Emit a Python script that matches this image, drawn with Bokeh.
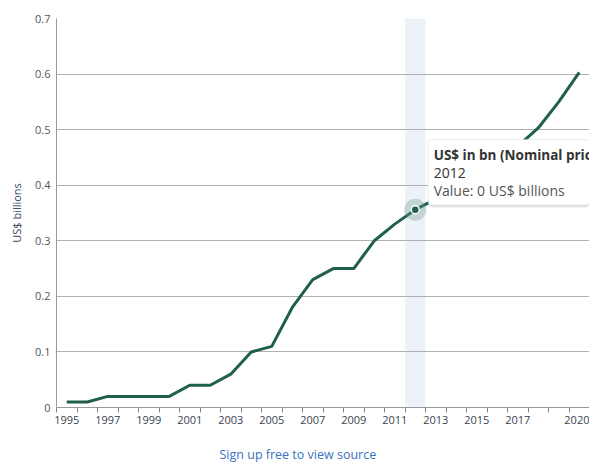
from bokeh.plotting import figure
from bokeh.models import (Range1d, FixedTicker, BoxAnnotation, Label, Title)
from bokeh.embed import file_html
from bokeh.resources import INLINE

# ---- data ----
years = list(range(1995, 2021))
values = [0.01, 0.01, 0.02, 0.02, 0.02, 0.02, 0.04, 0.04, 0.06, 0.10,
          0.11, 0.18, 0.23, 0.25, 0.25, 0.30, 0.33, 0.356, 0.375, 0.395,
          0.415, 0.44, 0.47, 0.503, 0.55, 0.603]
label_years = [1995, 1997, 1999, 2001, 2003, 2005, 2007, 2009, 2011,
               2013, 2015, 2017, 2020]
y_ticks = [0, 0.1, 0.2, 0.3, 0.4, 0.5, 0.6, 0.7]
y_tick_labels = ["0", "0.1", "0.2", "0.3", "0.4", "0.5", "0.6", "0.7"]
hover_year = 2012
hover_value = values[years.index(hover_year)]
tooltip_title = "US$ in bn (Nominal prices)"
tooltip_year = "2012"
tooltip_value = "Value: 0 US$ billions"
y_label = "US$ billions"
footer = "Sign up free to view source"

FONT = "Open Sans"
LINE = "#1f5f4b"

p = figure(width=589, height=462, output_backend="svg", toolbar_location=None,
           x_range=Range1d(years[0] - 0.5, years[-1] + 0.5),
           y_range=Range1d(y_ticks[0], y_ticks[-1]),
           min_border_left=56, min_border_top=18, min_border_right=0,
           min_border_bottom=54)
p.outline_line_color = None
p.background_fill_color = "white"

# highlight band
band = BoxAnnotation(left=hover_year - 0.5, right=hover_year + 0.5,
                     fill_color="#edf1f8", fill_alpha=1.0, line_color=None,
                     level="image")
p.add_layout(band)

# axes
p.xaxis.ticker = FixedTicker(ticks=label_years,
                             minor_ticks=[y - 0.5 for y in years] + [years[-1] + 0.5])
p.xaxis.major_tick_out = 0
p.xaxis.major_tick_in = 0
p.xaxis.minor_tick_out = 5
p.xaxis.minor_tick_in = 0
p.xaxis.minor_tick_line_color = "#888888"
p.xaxis.axis_line_color = "#999999"
p.xaxis.major_label_text_font = FONT
p.xaxis.major_label_text_font_size = "11px"
p.xaxis.major_label_text_color = "#3a3f4f"
p.xaxis.major_label_standoff = 3

p.yaxis.ticker = FixedTicker(ticks=y_ticks)
p.yaxis.major_label_overrides = {t: l for t, l in zip(y_ticks, y_tick_labels)}
p.yaxis.major_tick_out = 0
p.yaxis.major_tick_in = 0
p.yaxis.minor_tick_line_color = None
p.yaxis.axis_line_color = "#999999"
p.yaxis.major_label_text_font = FONT
p.yaxis.major_label_text_font_size = "11px"
p.yaxis.major_label_text_color = "#555555"
p.yaxis.major_label_standoff = 6
p.yaxis.axis_label = y_label
p.yaxis.axis_label_text_font = FONT
p.yaxis.axis_label_text_font_size = "11px"
p.yaxis.axis_label_text_font_style = "normal"
p.yaxis.axis_label_text_color = "#3b4565"
p.yaxis.axis_label_standoff = 8

p.xgrid.grid_line_color = None
p.ygrid.grid_line_color = "#b0b0b0"
p.ygrid.grid_line_width = 1.2

# line
p.line(years, values, line_color=LINE, line_width=3)

# hover marker
p.scatter([hover_year], [hover_value], size=22, fill_color="#6f9e90",
          fill_alpha=0.35, line_color=None)
p.scatter([hover_year], [hover_value], size=8, fill_color=LINE,
          line_color="white", line_width=1.5)

# tooltip
tip_left = hover_year + 0.63
tip_top = hover_value + 0.1263
tip_bottom = hover_value + 0.0084
for off, a in [(0.006, 0.05), (0.003, 0.07)]:
    p.add_layout(BoxAnnotation(left=tip_left + off * 20, top=tip_top - off * 0.4,
                               bottom=tip_bottom - off, fill_color="black",
                               fill_alpha=a, line_color=None, border_radius=4))
tip = BoxAnnotation(left=tip_left, top=tip_top, bottom=tip_bottom,
                    fill_color="white", fill_alpha=1.0,
                    line_color="#c4c4c4", line_width=1, border_radius=3)
p.add_layout(tip)
tx = tip_left + 0.27
for txt, dy, style, col, fs in [(tooltip_title, 0.098, "bold", "#333333", "13.5px"),
                                (tooltip_year, 0.066, "normal", "#333333", "14px"),
                                (tooltip_value, 0.035, "normal", "#555555", "14px")]:
    p.add_layout(Label(x=tx, y=hover_value + dy, text=txt,
                       text_font=FONT, text_font_size=fs,
                       text_font_style=style, text_color=col,
                       text_baseline="middle", text_align="left"))

# footer: below the axis (leading blank line pushes it down)
p.add_layout(Title(text="\n" + footer, align="left", offset=163,
                   text_font=FONT, text_font_size="12.5px",
                   text_font_style="normal", text_color="#3a72c2",
                   standoff=0), "below")

open("out.html", "w").write(file_html(p, INLINE))
